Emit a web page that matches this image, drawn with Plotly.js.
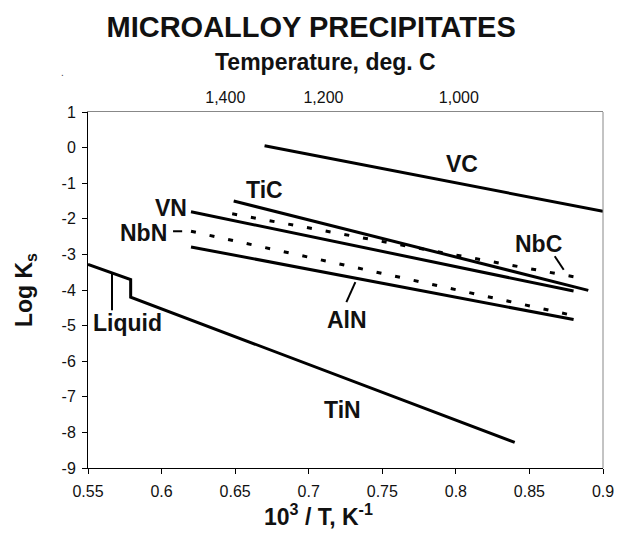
<!DOCTYPE html>
<html>
<head>
<meta charset="utf-8">
<script src="https://cdn.plot.ly/plotly-3.0.1.min.js"></script>
<style>html,body{margin:0;padding:0;background:#fff;}#chart{width:626px;height:533px;}</style>
</head>
<body>
<div id="chart"></div>
<script>
// ---- data (x = 10^3/T, y = log Ks) ----
const vcX = [0.670, 0.900];   const vcY = [0.05, -1.79];
const ticX = [0.649, 0.890];  const ticY = [-1.50, -4.01];
const vnX = [0.620, 0.880];   const vnY = [-1.80, -4.03];
const nbcX = [0.648, 0.883];  const nbcY = [-1.86, -3.65];
const nbnX = [0.620, 0.879];  const nbnY = [-2.35, -4.71];
const alnX = [0.620, 0.880];  const alnY = [-2.79, -4.83];
const tinX = [0.550, 0.579, 0.579, 0.840];
const tinY = [-3.28, -3.71, -4.20, -8.28];

// leader lines
const liquidLeadX = [0.5663, 0.5663]; const liquidLeadY = [-3.54, -4.57];
const alnLeadX = [0.7317, 0.7256];    const alnLeadY = [-3.78, -4.34];
const nbcLeadX = [0.8672, 0.8733];    const nbcLeadY = [-3.05, -3.43];
const nbnLeadX = [0.6078, 0.6140];    const nbnLeadY = [-2.35, -2.35];

// label text and anchor points
const labelText = ['VC', 'TiC', 'VN', 'NbN', 'NbC', 'AlN', 'TiN', 'Liquid'];
const labelX = [0.804, 0.670, 0.6064, 0.588, 0.8563, 0.7263, 0.7232, 0.5766];
const labelY = [-0.45, -1.18, -1.69, -2.39, -2.70, -4.85, -7.36, -4.94];

// axis ticks
const xTicks = [0.55, 0.6, 0.65, 0.7, 0.75, 0.8, 0.85, 0.9];
const xTickText = ['0.55', '0.6', '0.65', '0.7', '0.75', '0.8', '0.85', '0.9'];
const yTicks = [1, 0, -1, -2, -3, -4, -5, -6, -7, -8, -9];
const yTickText = ['1', '0', '-1', '-2', '-3', '-4', '-5', '-6', '-7', '-8', '-9'];
const tempTickPos = [0.6433, 0.710, 0.802];
const tempTickText = ['1,400', '1,200', '1,000'];

const FONT = 'Liberation Sans, Arial, Helvetica, sans-serif';
const INK = '#111111';

function solid(x, y, name) {
  return {x: x, y: y, name: name, type: 'scatter', mode: 'lines',
          line: {color: '#000', width: 3}, hoverinfo: 'skip'};
}
function dotted(x, y, name) {
  return {x: x, y: y, name: name, type: 'scatter', mode: 'lines',
          line: {color: '#000', width: 3, dash: '5px,14px'}, hoverinfo: 'skip'};
}
function leader(x, y) {
  return {x: x, y: y, type: 'scatter', mode: 'lines',
          line: {color: '#000', width: 2}, hoverinfo: 'skip'};
}

const data = [
  solid(vcX, vcY, 'VC'),
  solid(ticX, ticY, 'TiC'),
  solid(vnX, vnY, 'VN'),
  dotted(nbcX, nbcY, 'NbC'),
  dotted(nbnX, nbnY, 'NbN'),
  solid(alnX, alnY, 'AlN'),
  solid(tinX, tinY, 'TiN'),
  leader(liquidLeadX, liquidLeadY),
  leader(alnLeadX, alnLeadY),
  leader(nbcLeadX, nbcLeadY),
  leader(nbnLeadX, nbnLeadY),
  {x: tempTickPos, y: [null, null, null], xaxis: 'x2', yaxis: 'y',
   type: 'scatter', mode: 'lines', hoverinfo: 'skip'}
];

const annotations = labelText.map((t, i) => ({
  x: labelX[i], y: labelY[i], xref: 'x', yref: 'y', text: t,
  showarrow: false, xanchor: 'center', yanchor: 'middle',
  font: {family: FONT, size: 23, color: INK, weight: 'bold'}
}));
annotations.push({
  x: 0.4608, y: 1.1396, xref: 'paper', yref: 'paper',
  text: 'Temperature, deg. C', showarrow: false,
  xanchor: 'center', yanchor: 'middle',
  font: {family: FONT, size: 23, color: INK, weight: 'bold'}
});
annotations.push({
  x: 0.447, y: -0.1806, xref: 'paper', yref: 'paper',
  text: '10<sup>3</sup> / T, K<sup>-1</sup>', showarrow: false,
  xanchor: 'center', yanchor: 'bottom',
  font: {family: FONT, size: 23, color: INK, weight: 'bold'}
});
annotations.push({
  x: -0.05, y: 1.1115, xref: 'paper', yref: 'paper', text: '.',
  showarrow: false, xanchor: 'center', yanchor: 'middle',
  font: {family: FONT, size: 10, color: '#444'}
});

const layout = {
  width: 626, height: 533,
  margin: {l: 88, r: 23, t: 112, b: 65, pad: 0},
  paper_bgcolor: '#fff', plot_bgcolor: '#fff',
  showlegend: false,
  title: {text: 'MICROALLOY PRECIPITATES', x: 0.497, xref: 'container', xanchor: 'center',
          y: 0.95, yref: 'container', yanchor: 'middle',
          font: {family: FONT, size: 29, color: INK, weight: 'bold'}},
  xaxis: {range: [0.55, 0.9], tickvals: xTicks, ticktext: xTickText,
          showgrid: false, zeroline: false, showline: true, linecolor: '#000', linewidth: 1,
          ticks: 'outside', ticklen: 5, tickcolor: '#000', ticklabelstandoff: 4,
          tickfont: {family: FONT, size: 16, color: INK}},
  xaxis2: {range: [0.55, 0.9], overlaying: 'x', side: 'top', anchor: 'y',
           tickvals: tempTickPos, ticktext: tempTickText,
           showgrid: false, zeroline: false, showline: true, linecolor: '#888', linewidth: 1,
           ticks: '', ticklabelstandoff: 2,
           tickfont: {family: FONT, size: 16, color: INK}},
  yaxis: {range: [-9, 1], tickvals: yTicks, ticktext: yTickText,
          showgrid: false, zeroline: false, showline: true, linecolor: '#000', linewidth: 1,
          ticks: 'outside', ticklen: 5, tickcolor: '#000', ticklabelstandoff: 3,
          tickfont: {family: FONT, size: 16, color: INK},
          title: {text: 'Log K<sub>s</sub>', standoff: 22,
                  font: {family: FONT, size: 23, color: INK, weight: 'bold'}}},
  shapes: [{type: 'line', xref: 'paper', yref: 'paper', x0: 1, x1: 1, y0: 0, y1: 1,
            line: {color: '#888', width: 1}}],
  annotations: annotations
};

Plotly.newPlot('chart', data, layout, {staticPlot: true, displayModeBar: false});
</script>
</body>
</html>
